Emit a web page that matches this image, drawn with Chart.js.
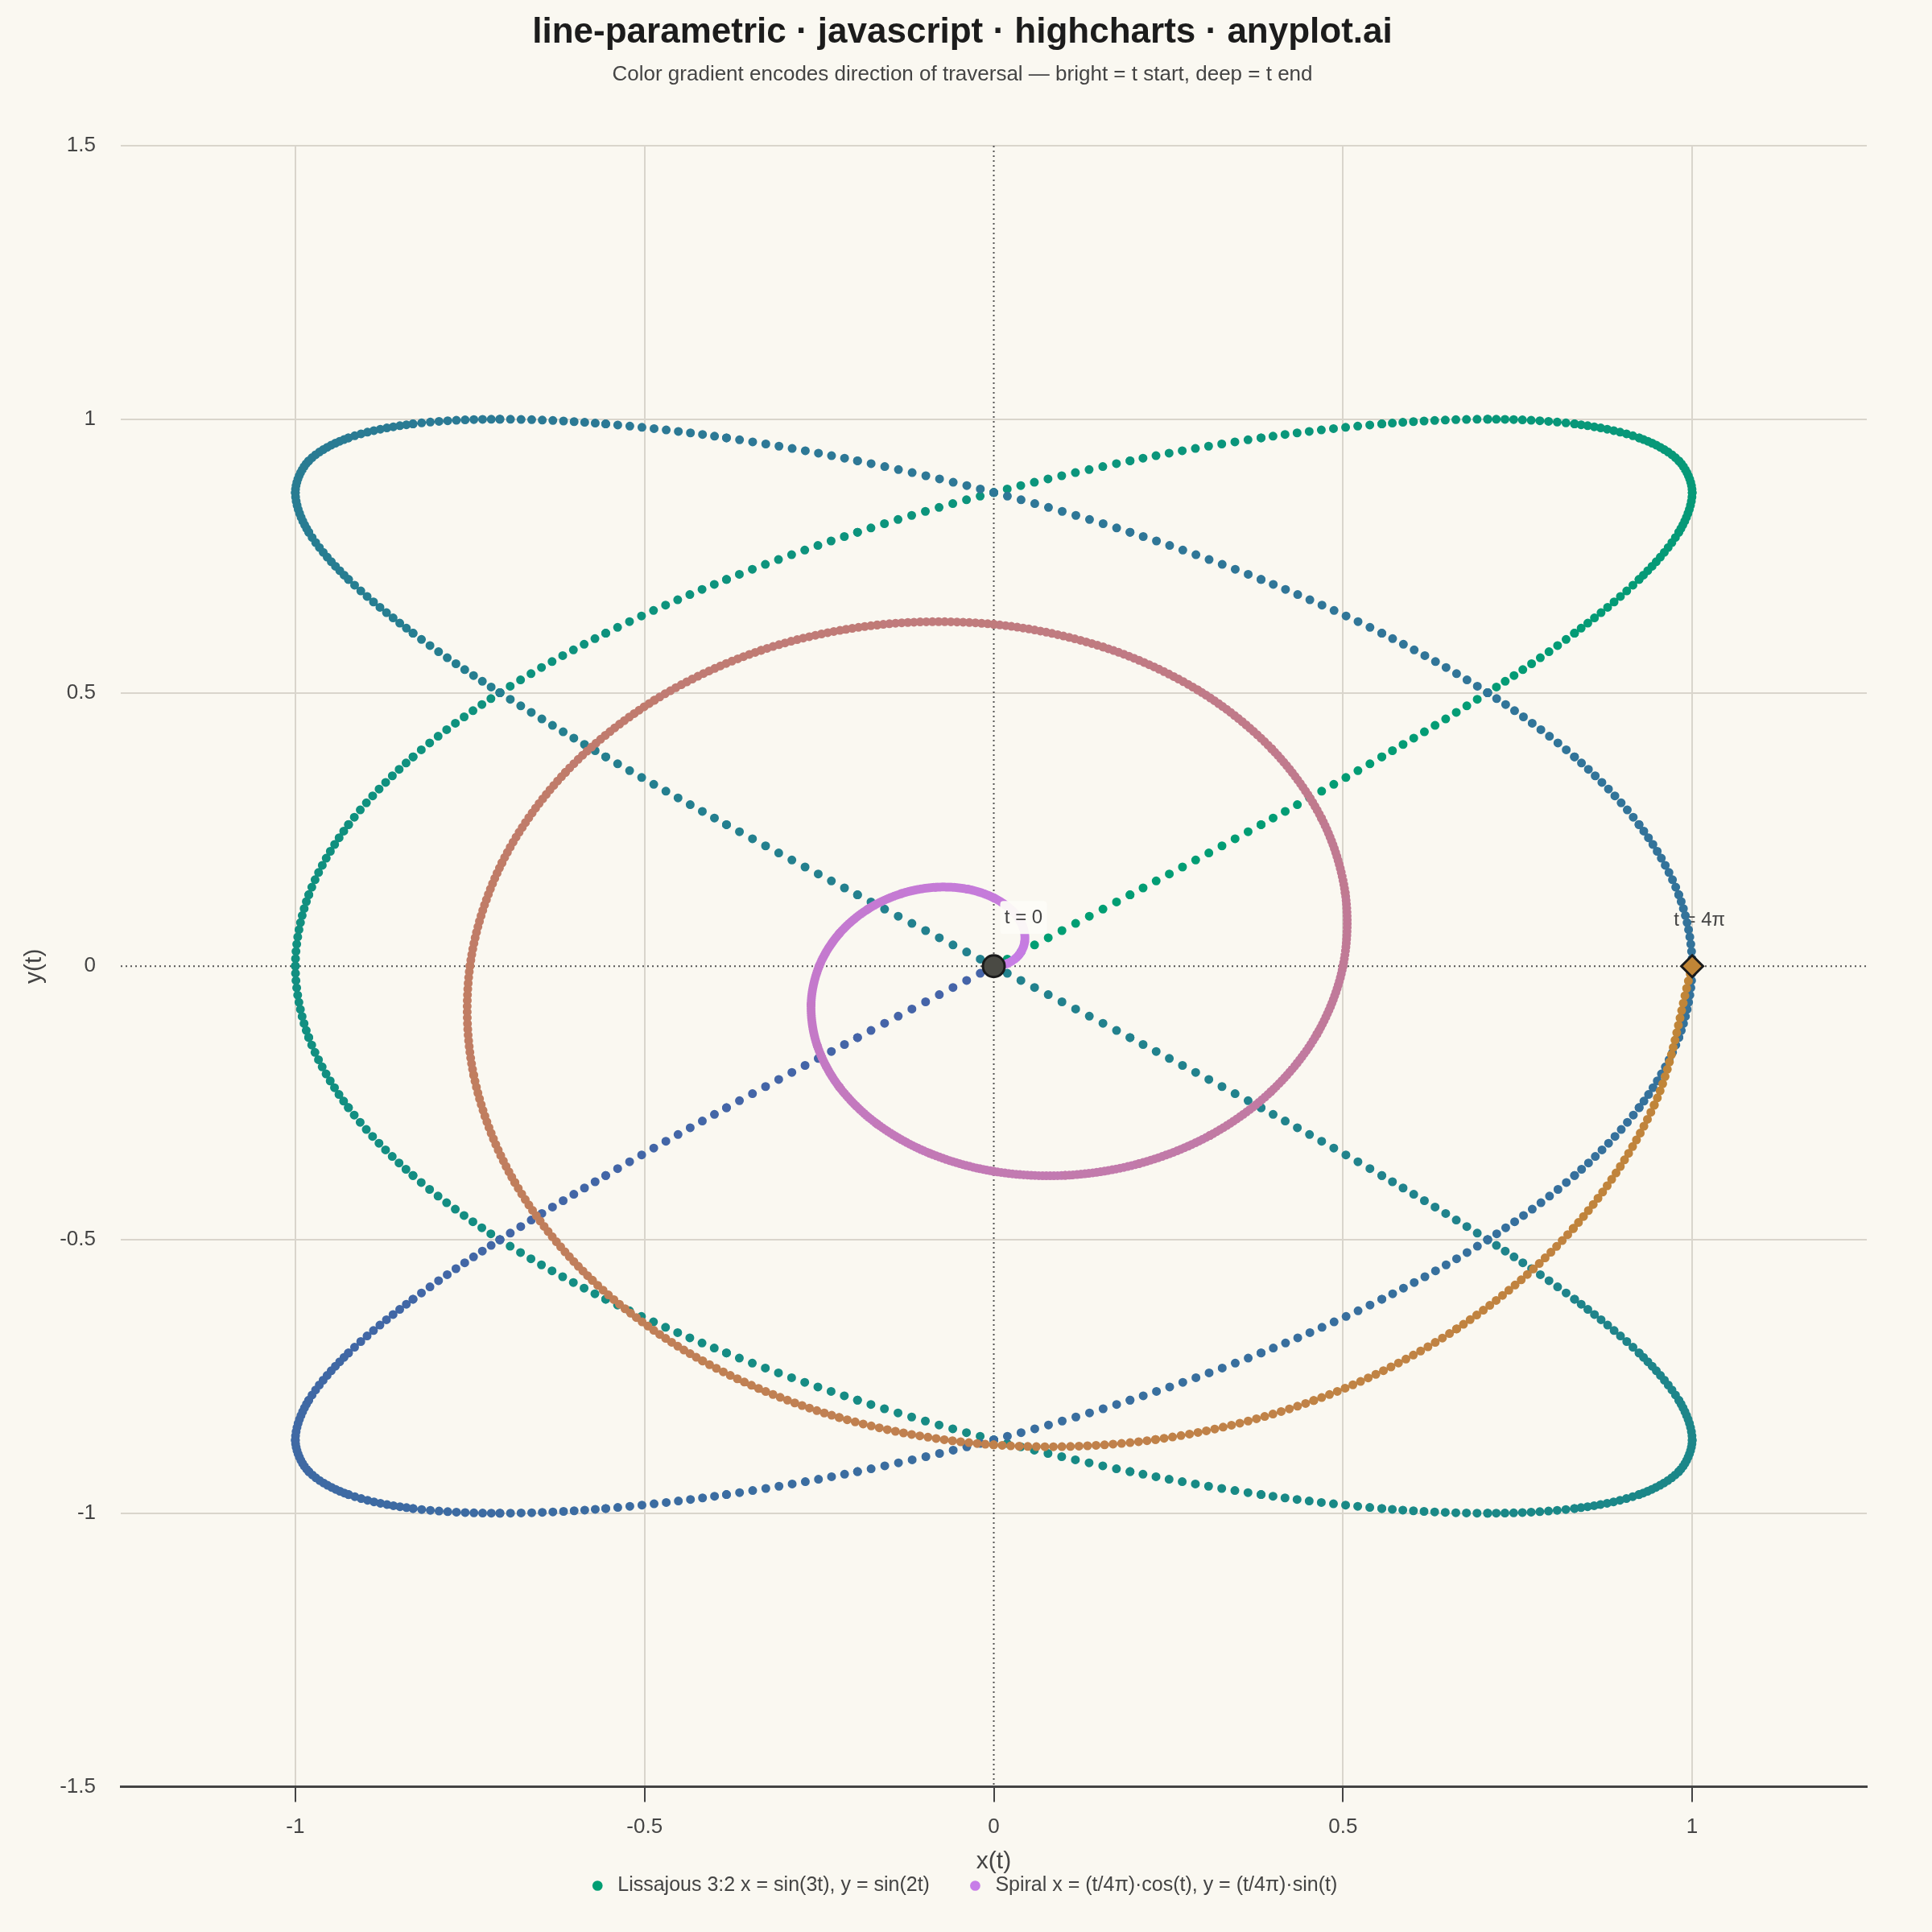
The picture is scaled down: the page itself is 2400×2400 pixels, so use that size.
<!DOCTYPE html>
<html>
<head>
<meta charset="utf-8">
<title>line-parametric</title>
<script src="https://cdn.jsdelivr.net/npm/chart.js@4.4.1/dist/chart.umd.min.js"></script>
<style>
  html, body { margin: 0; padding: 0; background: #faf8f1; }
  #wrap { width: 2400px; height: 2400px; }
</style>
</head>
<body>
<div id="wrap"><canvas id="chart" width="2400" height="2400"></canvas></div>
<script>
// Lissajous 3:2, one point every 3.75 deg of t (t = 0 .. 2π)
const lissX = [
  0, 0.1951, 0.3827, 0.5556, 0.7071, 0.8315, 0.9239, 0.9808, 1, 0.9808, 0.9239, 0.8315, 0.7071, 0.5556, 0.3827, 0.1951,
  0, -0.1951, -0.3827, -0.5556, -0.7071, -0.8315, -0.9239, -0.9808, -1, -0.9808, -0.9239, -0.8315, -0.7071, -0.5556, -0.3827, -0.1951,
  0, 0.1951, 0.3827, 0.5556, 0.7071, 0.8315, 0.9239, 0.9808, 1, 0.9808, 0.9239, 0.8315, 0.7071, 0.5556, 0.3827, 0.1951,
  0, -0.1951, -0.3827, -0.5556, -0.7071, -0.8315, -0.9239, -0.9808, -1, -0.9808, -0.9239, -0.8315, -0.7071, -0.5556, -0.3827, -0.1951,
  0, 0.1951, 0.3827, 0.5556, 0.7071, 0.8315, 0.9239, 0.9808, 1, 0.9808, 0.9239, 0.8315, 0.7071, 0.5556, 0.3827, 0.1951,
  0, -0.1951, -0.3827, -0.5556, -0.7071, -0.8315, -0.9239, -0.9808, -1, -0.9808, -0.9239, -0.8315, -0.7071, -0.5556, -0.3827, -0.1951,
  0
];
const lissY = [
  0, 0.1305, 0.2588, 0.3827, 0.5, 0.6088, 0.7071, 0.7934, 0.866, 0.9239, 0.9659, 0.9914,
  1, 0.9914, 0.9659, 0.9239, 0.866, 0.7934, 0.7071, 0.6088, 0.5, 0.3827, 0.2588, 0.1305,
  0, -0.1305, -0.2588, -0.3827, -0.5, -0.6088, -0.7071, -0.7934, -0.866, -0.9239, -0.9659, -0.9914,
  -1, -0.9914, -0.9659, -0.9239, -0.866, -0.7934, -0.7071, -0.6088, -0.5, -0.3827, -0.2588, -0.1305,
  0, 0.1305, 0.2588, 0.3827, 0.5, 0.6088, 0.7071, 0.7934, 0.866, 0.9239, 0.9659, 0.9914,
  1, 0.9914, 0.9659, 0.9239, 0.866, 0.7934, 0.7071, 0.6088, 0.5, 0.3827, 0.2588, 0.1305,
  0, -0.1305, -0.2588, -0.3827, -0.5, -0.6088, -0.7071, -0.7934, -0.866, -0.9239, -0.9659, -0.9914,
  -1, -0.9914, -0.9659, -0.9239, -0.866, -0.7934, -0.7071, -0.6088, -0.5, -0.3827, -0.2588, -0.1305,
  0
];

// Spiral, one point every 15 deg of t (t = 0 .. 4π)
const spiralX = [
  0, 0.0201, 0.0361, 0.0442, 0.0417, 0.0270, 0, -0.0377, -0.0833, -0.1326, -0.1804, -0.2214,
  -0.25, -0.2616, -0.2526, -0.2210, -0.1667, -0.0917, 0, 0.1024, 0.2083, 0.3094, 0.3969, 0.4628,
  0.5, 0.5031, 0.4691, 0.3977, 0.2917, 0.1564, 0, -0.1671, -0.3333, -0.4861, -0.6134, -0.7043,
  -0.75, -0.7446, -0.6856, -0.5745, -0.4167, -0.2211, 0, 0.2318, 0.4583, 0.6629, 0.8299, 0.9458,
  1
];
const spiralY = [
  0, 0.0054, 0.0208, 0.0442, 0.0722, 0.1006, 0.125, 0.1409, 0.1443, 0.1326, 0.1042, 0.0593,
  0, -0.0701, -0.1458, -0.2210, -0.2887, -0.3421, -0.375, -0.3823, -0.3608, -0.3094, -0.2292, -0.1240,
  0, 0.1348, 0.2708, 0.3977, 0.5052, 0.5836, 0.625, 0.6238, 0.5774, 0.4861, 0.3542, 0.1887,
  0, -0.1995, -0.3958, -0.5745, -0.7217, -0.8251, -0.875, -0.8653, -0.7939, -0.6629, -0.4792, -0.2534,
  0
];

const xTicks = [-1, -0.5, 0, 0.5, 1];
const yTicks = [-1.5, -1, -0.5, 0, 0.5, 1, 1.5];
const seriesNames = [
  "Lissajous 3:2 x = sin(3t), y = sin(2t)",
  "Spiral x = (t/4π)·cos(t), y = (t/4π)·sin(t)"
];
const titleText = "line-parametric · javascript · highcharts · anyplot.ai";
const subtitleText = "Color gradient encodes direction of traversal — bright = t start, deep = t end";
const startLabel = "t = 0";
const endLabel = "t = 4π";

// colour ramps along t (bright -> deep)
const lissStops = [[0, [0, 158, 115]], [1, [69, 100, 168]]];
const spiralStops = [[0, [199, 125, 232]], [0.25, [196, 121, 206]], [0.5, [192, 122, 152]], [0.7, [192, 123, 110]], [1, [192, 133, 54]]];

const FONT = '"Liberation Sans", Arial, sans-serif';
Chart.defaults.font.family = FONT;
Chart.defaults.color = "#444";

function mix(stops, f) {
  for (let i = 1; i < stops.length; i++) {
    if (f <= stops[i][0] || i === stops.length - 1) {
      const [f0, c0] = stops[i - 1], [f1, c1] = stops[i];
      const u = Math.min(1, Math.max(0, (f - f0) / (f1 - f0)));
      return "rgb(" + c0.map((v, k) => Math.round(v + (c1[k] - v) * u)).join(",") + ")";
    }
  }
}

// colour of each piece follows its position in t
function shade(stops, n) {
  return (ctx) => mix(stops, (ctx.p0DataIndex + 0.5) / (n - 1));
}

// round-capped zero dashes give the beaded look, spread evenly in t
function beads(perStep) {
  return (ctx) => {
    const d = Math.hypot(ctx.p1.x - ctx.p0.x, ctx.p1.y - ctx.p0.y);
    return [0, Math.max(d / perStep, 0.6)];
  };
}

const toPoints = (xs, ys) => xs.map((x, i) => ({ x: x, y: ys[i] }));
const last = spiralX.length - 1;

const overlay = {
  id: "overlay",
  beforeDatasetsDraw(chart) {
    const { ctx, chartArea: a, scales } = chart;
    const x0 = scales.x.getPixelForValue(0);
    const y0 = scales.y.getPixelForValue(0);
    ctx.save();
    ctx.strokeStyle = "#555";
    ctx.lineWidth = 2;
    ctx.setLineDash([2, 4]);
    ctx.beginPath();
    ctx.moveTo(x0, a.top);
    ctx.lineTo(x0, a.bottom);
    ctx.moveTo(a.left, y0);
    ctx.lineTo(a.right, y0);
    ctx.stroke();
    ctx.setLineDash([]);
    ctx.font = "24px " + FONT;
    ctx.fillStyle = "#444";
    ctx.textAlign = "center";
    ctx.textBaseline = "middle";
    ctx.fillText(endLabel, scales.x.getPixelForValue(spiralX[last]) + 9, scales.y.getPixelForValue(spiralY[last]) - 57);
    ctx.restore();
  },
  afterDatasetsDraw(chart) {
    const { ctx, scales } = chart;
    const cx = scales.x.getPixelForValue(spiralX[0]) + 37;
    const cy = scales.y.getPixelForValue(spiralY[0]) - 61;
    ctx.save();
    ctx.fillStyle = "rgba(253, 252, 247, 0.95)";
    ctx.beginPath();
    ctx.roundRect(cx - 29, cy - 20, 58, 41, 4);
    ctx.fill();
    ctx.font = "24px " + FONT;
    ctx.fillStyle = "#444";
    ctx.textAlign = "center";
    ctx.textBaseline = "middle";
    ctx.fillText(startLabel, cx, cy + 1);
    ctx.restore();
  }
};

new Chart(document.getElementById("chart"), {
  type: "scatter",
  data: {
    datasets: [
      {
        label: seriesNames[0],
        data: toPoints(lissX, lissY),
        showLine: true,
        borderWidth: 11,
        borderCapStyle: "round",
        borderColor: mix(lissStops, 0),
        backgroundColor: mix(lissStops, 0),
        pointRadius: 0,
        pointHoverRadius: 0,
        pointBackgroundColor: mix(lissStops, 0),
        pointBorderWidth: 0,
        pointStyle: "circle",
        tension: 0.33,
        order: 2,
        segment: { borderColor: shade(lissStops, lissX.length), borderDash: beads(10) }
      },
      {
        label: seriesNames[1],
        data: toPoints(spiralX, spiralY),
        showLine: true,
        borderWidth: 11,
        borderCapStyle: "round",
        borderColor: mix(spiralStops, 0),
        backgroundColor: mix(spiralStops, 0),
        pointRadius: 0,
        pointHoverRadius: 0,
        pointBackgroundColor: mix(spiralStops, 0),
        pointBorderWidth: 0,
        pointStyle: "circle",
        tension: 0.33,
        order: 1,
        segment: { borderColor: shade(spiralStops, spiralX.length), borderDash: beads(19) }
      },
      {
        label: startLabel,
        data: [{ x: spiralX[0], y: spiralY[0] }],
        pointRadius: 13.5,
        pointStyle: "circle",
        pointBackgroundColor: "#4a4a44",
        pointBorderColor: "#1a1a1a",
        pointBorderWidth: 3,
        order: 0
      },
      {
        label: endLabel,
        data: [{ x: spiralX[last], y: spiralY[last] }],
        pointRadius: 13.5,
        pointStyle: "rectRot",
        pointBackgroundColor: "#c08536",
        pointBorderColor: "#1a1a1a",
        pointBorderWidth: 3,
        order: 0
      }
    ]
  },
  options: {
    responsive: false,
    devicePixelRatio: 1,
    animation: false,
    events: [],
    layout: { padding: { left: 72, right: 81, top: 0, bottom: 35 } },
    scales: {
      x: {
        type: "linear",
        min: -1.25,
        max: 1.25,
        afterBuildTicks: (s) => { s.ticks = xTicks.map((v) => ({ value: v })); },
        afterFit: (s) => { s.height = 66.5; },
        ticks: { callback: (v) => String(v), font: { size: 26 }, color: "#444", padding: 16, maxRotation: 0 },
        grid: {
          color: (c) => (c.tick && c.tick.value === 0 ? "rgba(0,0,0,0)" : "#d9d5cc"),
          lineWidth: 2,
          drawTicks: true,
          tickLength: 19,
          tickColor: "#444",
          tickWidth: 2
        },
        border: { display: true, color: "#444", width: 3 },
        title: { display: true, text: "x(t)", font: { size: 30 }, color: "#444", padding: { top: 0, bottom: -45 } }
      },
      y: {
        type: "linear",
        min: -1.5,
        max: 1.5,
        afterBuildTicks: (s) => { s.ticks = yTicks.map((v) => ({ value: v })); },
        afterFit: (s) => { s.width = 78; },
        ticks: { callback: (v) => String(v), font: { size: 26 }, color: "#444", padding: 31 },
        grid: {
          color: (c) => (c.tick && c.tick.value === 0 ? "rgba(0,0,0,0)" : "#d9d5cc"),
          lineWidth: 2,
          drawTicks: false
        },
        border: { display: false },
        title: { display: true, text: "y(t)", font: { size: 30 }, color: "#444", padding: { top: -47, bottom: 0 } }
      }
    },
    plugins: {
      title: {
        display: true,
        text: titleText,
        font: { size: 44, weight: "bold" },
        color: "#1c1c1c",
        padding: { top: 14, bottom: 0 }
      },
      subtitle: {
        display: true,
        text: subtitleText,
        font: { size: 26 },
        color: "#444",
        padding: { top: 10, bottom: 73 }
      },
      legend: {
        position: "bottom",
        labels: {
          usePointStyle: true,
          boxWidth: 25,
          boxHeight: 9,
          padding: 44,
          font: { size: 25 },
          color: "#444",
          filter: (item) => item.datasetIndex < 2,
          sort: (a, b) => a.datasetIndex - b.datasetIndex,
          generateLabels: (chart) =>
            Chart.defaults.plugins.legend.labels.generateLabels(chart).map((item) => {
              item.lineWidth = 0;
              return item;
            })
        }
      },
      tooltip: { enabled: false }
    }
  },
  plugins: [overlay]
});
</script>
</body>
</html>
